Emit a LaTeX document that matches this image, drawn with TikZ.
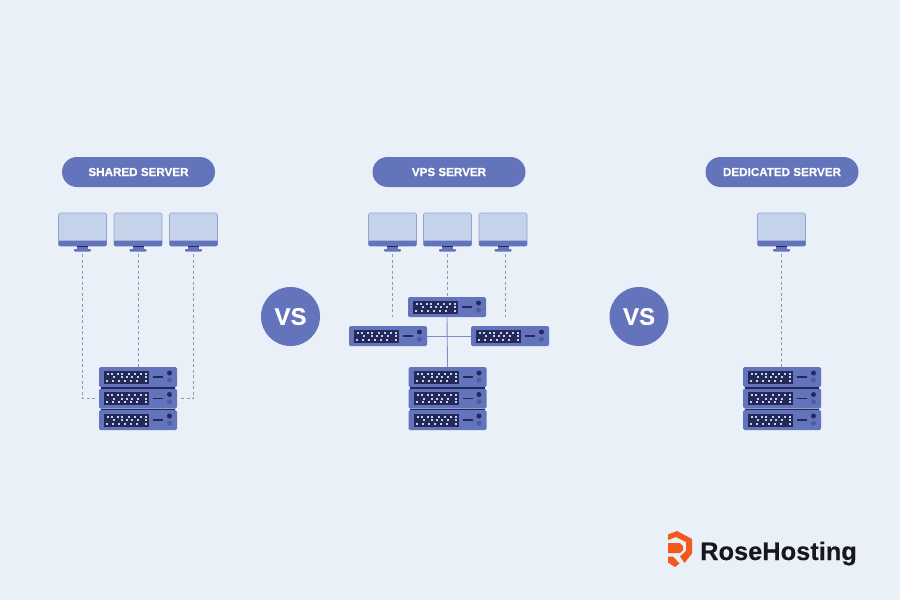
\documentclass[tikz,border=0pt]{standalone}
\usepackage{fontspec}
\setmainfont[BoldFeatures={FakeBold=0.25}]{Liberation Sans}
\definecolor{pagebg}{HTML}{EAF0F7}
\definecolor{rackblue}{HTML}{6373BC}
\definecolor{rackdark}{HTML}{25295A}
\definecolor{ledblue}{HTML}{4D5CA8}
\definecolor{screenblue}{HTML}{C4D2EA}
\definecolor{framegrey}{HTML}{95A2CF}
\definecolor{dashgrey}{HTML}{8F98B0}
\definecolor{wireblue}{HTML}{7D8CD0}
\definecolor{logoorange}{HTML}{F4581C}
\definecolor{logoblack}{HTML}{16181D}
\tikzset{
    titlepill/.style={fill=rackblue, rounded corners=15pt, minimum width=153pt, minimum height=30pt, inner sep=0pt, text=white, font=\fontsize{11.65}{12}\selectfont\bfseries},
    vscircle/.style={circle, fill=rackblue, minimum size=59pt, inner sep=0pt, text=white, font=\fontsize{24}{24}\selectfont\bfseries},
    rackbody/.style={fill=rackblue, rounded corners=1.5pt, minimum width=78pt, minimum height=20pt, inner sep=0pt},
    screenbody/.style={fill=screenblue, draw=framegrey, line width=0.6pt, rounded corners=1.5pt, minimum width=48pt, minimum height=33pt, inner sep=0pt},
    dashlink/.style={draw=dashgrey, line width=0.7pt, dash pattern=on 3pt off 2.5pt},
    wirelink/.style={draw=wireblue, line width=0.9pt},
    stackgap/.style={draw=rackdark, line width=1.5pt},
    serverunit/.pic={
        \node[rackbody] (-body) at (0,0) {};
        \fill[rackdark] (-34,-6.5) rectangle (11,6.5);
        \foreach \colx/\rowy in {-30/-3.5,-26/-3.5,-20/-3.5,-16/-3.5,-9/-3.5,-3/-3.5,3/-3.5,8/-3.5,
            -24/0,-16/0,-11/0,-6/0,0/0,8/0,
            -31/3.5,-25/3.5,-19/3.5,-13/3.5,-7/3.5,-1/3.5,8/3.5}
            \fill[screenblue] (\colx-1,\rowy-1) rectangle (\colx+1,\rowy+1);
        \draw[rackdark, line width=1.8pt] (15,0) -- (25,0);
        \fill[rackdark] (31.5,-4) circle (2.5);
        \fill[ledblue] (31.5,3.2) circle (2.5);
    },
    monitorunit/.pic={
        \node[screenbody] (-body) at (0,0) {};
        \fill[rackblue] (-24,11) -- (24,11) -- (24,15.2) [rounded corners=1pt] -- (24,16.5) -- (-24,16.5) -- cycle;
        \fill[rackblue] (-5.5,16.5) rectangle (5.5,20);
        \fill[rackdark] (-5.5,16.5) rectangle (5.5,17.5);
        \fill[rackblue, rounded corners=0.8pt] (-8.5,19.5) rectangle (8.5,22);
    },
}
\begin{document}
\begin{tikzpicture}[x=1pt, y=-1pt]
    \useasboundingbox[fill=pagebg] (0,0) rectangle (900,600);
    % titles
    \node[titlepill] (shared) at (138.5,172) {SHARED SERVER};
    \node[titlepill] (vps) at (449,172) {VPS SERVER};
    \node[titlepill] (dedicated) at (782,172) {DEDICATED SERVER};
    \node[vscircle] (vsa) at (290.5,316.5) {VS};
    \node[vscircle] (vsb) at (639,316.5) {VS};
    % shared
    \pic (sa) at (82.5,229.5) {monitorunit};
    \pic (sb) at (138,229.5) {monitorunit};
    \pic (sc) at (193.5,229.5) {monitorunit};
    \pic (rack1) at (138,377) {serverunit};
    \pic (rack2) at (138,398.5) {serverunit};
    \pic (rack3) at (138,420) {serverunit};
    % vps
    \pic (va) at (392.5,229.5) {monitorunit};
    \pic (vb) at (447.5,229.5) {monitorunit};
    \pic (vc) at (503,229.5) {monitorunit};
    \pic (vtop) at (447,307) {serverunit};
    \pic (vleft) at (388,336) {serverunit};
    \pic (vright) at (510,336) {serverunit};
    \pic (vrack1) at (447.5,377) {serverunit};
    \pic (vrack2) at (447.5,398.5) {serverunit};
    \pic (vrack3) at (447.5,420) {serverunit};
    % dedicated
    \pic (da) at (781.5,229.5) {monitorunit};
    \pic (drack1) at (782,377) {serverunit};
    \pic (drack2) at (782,398.5) {serverunit};
    \pic (drack3) at (782,420) {serverunit};
    % dark gaps in the stacks
    \foreach \stackname in {rack,vrack,drack}
        \foreach \levelno in {1,2}
            \draw[stackgap] ([xshift=2pt,yshift=-0.75pt]\stackname\levelno-body.south west) -- ([xshift=-2pt,yshift=-0.75pt]\stackname\levelno-body.south east);
    % free ends
    \coordinate (sastart) at (82.5,254);
    \coordinate (sbstart) at (138,254);
    \coordinate (scstart) at (193.5,254);
    \coordinate (vastart) at (392.5,254);
    \coordinate (vaend) at (392.5,317);
    \coordinate (vbstart) at (447.5,254);
    \coordinate (vcend) at (505,317);
    \coordinate (vctop) at (505,254);
    \coordinate (dastart) at (781.5,254);
    % links
    \draw[dashlink] (sastart) |- ([xshift=-4pt]rack2-body.west);
    \draw[dashlink] (sbstart) -- (rack1-body.north -| sbstart);
    \draw[dashlink] (scstart) |- ([xshift=4pt]rack2-body.east);
    \draw[dashlink] (vastart) -- (vaend);
    \draw[dashlink] (vbstart) -- (vtop-body.north -| vbstart);
    \draw[dashlink] (vctop) -- (vcend);
    \draw[dashlink] (dastart) -- (drack1-body.north -| dastart);
    \draw[wirelink] (vleft-body.east) -- (vright-body.west);
    \draw[wirelink] (vtop-body.south) -- (vrack1-body.north);
    % logo
    \fill[logoorange] (668,534.5) -- (677,531) -- (692,539) -- (692,553.5) -- (684.5,563) -- (680,556.5) -- (686,551) -- (686,542) -- (676,537) -- (668,540) -- cycle;
    \fill[logoorange] (668,543) -- (680,543) -- (683,546) -- (683,550) -- (680,553) -- (674,553) -- (668,553) -- cycle;
    \fill[logoorange] (668,556.5) -- (673,556.5) -- (679.5,563.5) -- (675,567) -- (668,562.5) -- cycle;
    \node[text=logoblack, font=\fontsize{25.4}{26}\selectfont\bfseries, anchor=base west, inner sep=0pt] (brand) at (700,560) {RoseHosting};
\end{tikzpicture}
\end{document}
